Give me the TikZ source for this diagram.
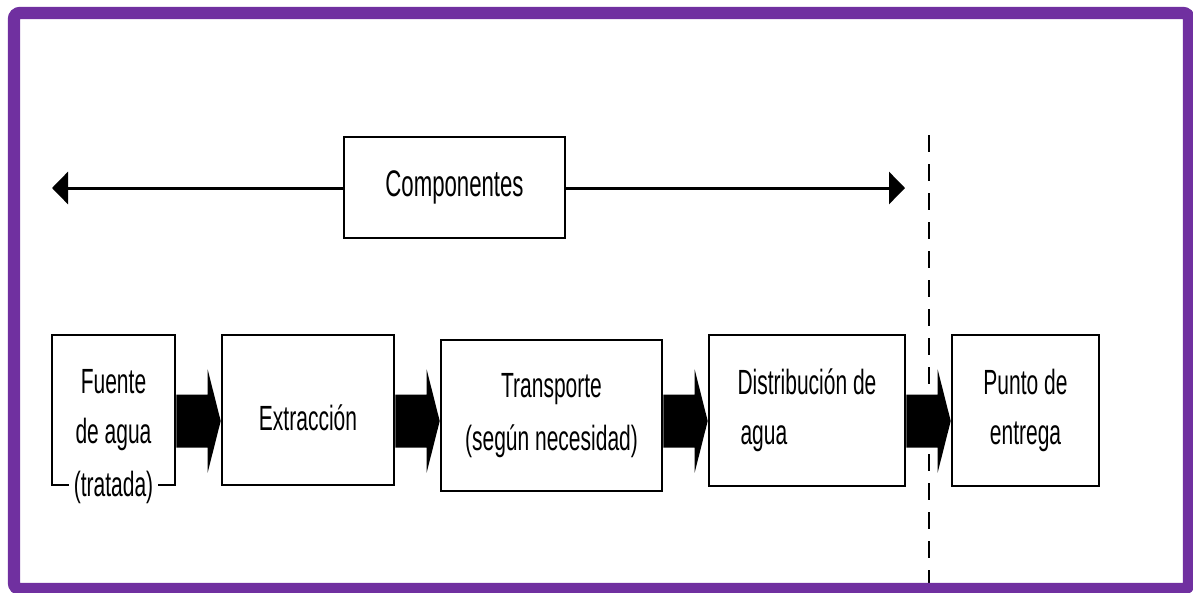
\documentclass[tikz,border=0pt]{standalone}
\usepackage{fontspec}
\setmainfont{Liberation Sans}[FakeStretch=0.6]
\usetikzlibrary{arrows.meta,calc}
\definecolor{framepurple}{RGB}{112,48,160}
\begin{document}
\begin{tikzpicture}[x=1pt,y=-1pt,
  stage/.style={draw=black, line width=2.6pt, inner sep=0pt, align=center,
    font=\fontsize{35}{50}\selectfont},
  span/.style={line width=3pt, -{Triangle[length=16pt,width=32pt]}},
  boundary/.style={line width=2pt, dash pattern=on 17pt off 12pt},
  frame/.style={draw=framepurple, line width=12.3pt, rounded corners=6pt}]
\useasboundingbox (0,0) rectangle (1193,592);
\fill[white] (0,0) rectangle (1193,592);

% scope of the system: delivery point lies beyond the dashed boundary
\draw[boundary] (929,135) -- (929,585);

% header with its double-headed span arrow
\node[stage, minimum width=221pt, minimum height=101pt,
  font=\fontsize{37}{50}\selectfont] (comp) at (454.5,187.5) {Componentes};
\coordinate (lt) at (52,188);
\coordinate (rt) at (905,188);
\draw[span] (comp.west |- lt) -- (lt);
\draw[span] (comp.east |- rt) -- (rt);

% process stages
\node[stage, minimum width=123pt, minimum height=150pt] (fuente) at (113.5,410) {Fuente\\de agua};
\node[stage, minimum width=172pt, minimum height=150pt] (extr) at (308,410)
  {\raisebox{-8pt}[\height][\depth]{Extracción}};
\node[stage, minimum width=221pt, minimum height=151pt,
  font=\fontsize{35}{53}\selectfont] (trans) at (551.5,415.5) {Transporte\\(según necesidad)};
\node[stage, minimum width=196pt, minimum height=151pt, align=left] (dist) at (807,410.5)
  {Distribución de\\\hspace{3pt}agua};
\node[stage, minimum width=147pt, minimum height=151pt] (punto) at (1025.5,410.5) {Punto de\\entrega};
\node[fill=white, inner xsep=5pt, inner ysep=0pt, font=\fontsize{35}{50}\selectfont] (trat) at (113.5,487) {(tratada)};

% block arrows between consecutive stages
\coordinate (ay) at (0,421);
\newcommand{\blockarrow}[2]{%
  \fill ($(#1.east |- ay)+(0,-26.5)$) -- ($(#2.west |- ay)+(-13,-26.5)$)
    -- ($(#2.west |- ay)+(-13,-51.5)$) -- (#2.west |- ay)
    -- ($(#2.west |- ay)+(-13,51.5)$) -- ($(#2.west |- ay)+(-13,26.5)$)
    -- ($(#1.east |- ay)+(0,26.5)$) -- cycle;}
\blockarrow{fuente}{extr}
\blockarrow{extr}{trans}
\blockarrow{trans}{dist}
\blockarrow{dist}{punto}

% purple outer frame
\draw[frame] (14,13) rectangle (1189,589);
\end{tikzpicture}
\end{document}
